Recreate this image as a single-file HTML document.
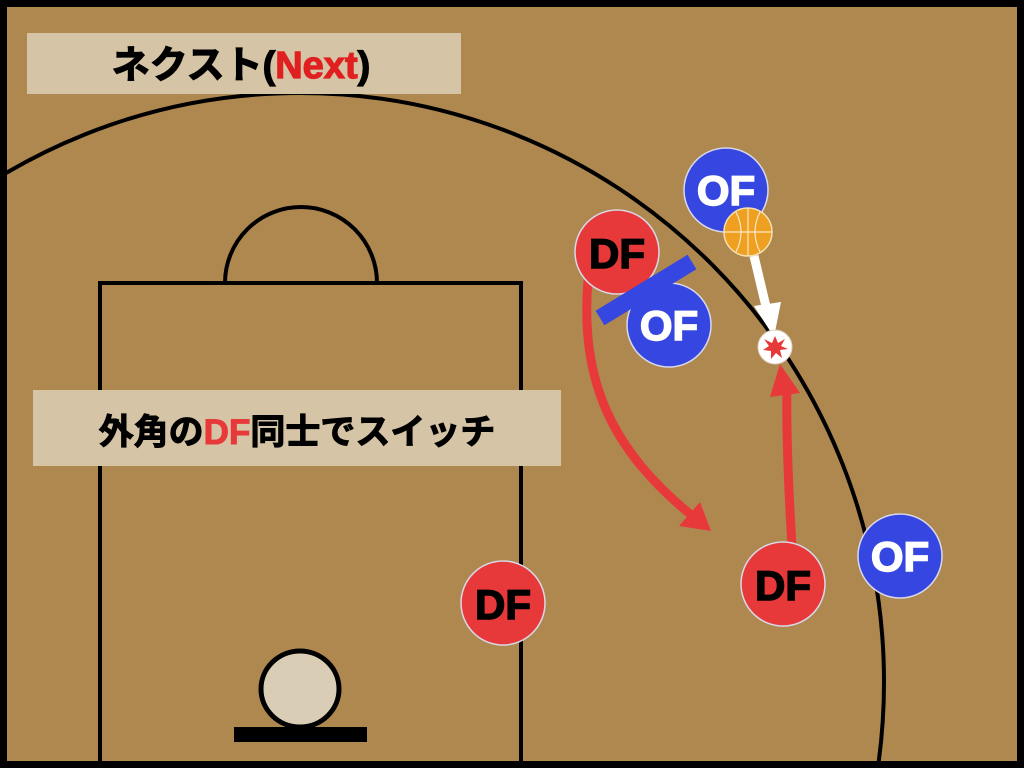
<!DOCTYPE html>
<html><head><meta charset="utf-8"><style>
html,body{margin:0;padding:0;background:#000;overflow:hidden;width:1024px;height:768px;}
svg{display:block}
text{font-family:"Liberation Sans","Noto Sans CJK JP",sans-serif;font-weight:bold;}
</style></head><body>
<svg width="1024" height="768" viewBox="0 0 1024 768" xmlns="http://www.w3.org/2000/svg">
<rect x="0" y="0" width="1024" height="768" fill="#000"/>
<rect x="7" y="7" width="1010" height="754" fill="#AF8850"/>
<defs><clipPath id="c"><rect x="7" y="7" width="1010" height="754"/></clipPath></defs>
<g clip-path="url(#c)" fill="none" stroke="#000" stroke-width="4">
<ellipse cx="300" cy="682" rx="584" ry="589"/>
<rect x="100" y="283" width="421" height="500"/>
<path d="M225 283 A76 76 0 0 1 377 283"/>
</g>
<ellipse cx="300" cy="689" rx="39" ry="38" fill="#D9CDB5" stroke="#000" stroke-width="5"/>
<rect x="234" y="727" width="133" height="15" fill="#000"/>
<rect x="27" y="33" width="434" height="61" fill="#D5C4A5"/>
<text x="241" y="78" font-size="38" text-anchor="middle" fill="#000" stroke="#000" stroke-width="1.2">ネクスト(<tspan fill="#E02020" stroke="#E02020">Next</tspan>)</text>
<rect x="33" y="390" width="528" height="76" fill="#D5C4A5"/>
<text x="297" y="444" font-size="35" text-anchor="middle" fill="#000" stroke="#000" stroke-width="1">外角の<tspan fill="#E8393A" stroke="#E8393A">DF</tspan>同士でスイッチ</text>
<path d="M588 280 C580 380 610 450 695 518" fill="none" stroke="#E8393A" stroke-width="9"/>
<polygon points="711,531 679,526 700,502" fill="#E8393A"/>
<path d="M792 546 C788 480 786 430 787 385" fill="none" stroke="#E8393A" stroke-width="9"/>
<polygon points="780,364 770,397 800,393" fill="#E8393A"/>
<path d="M754 256 L768 315" fill="none" stroke="#fff" stroke-width="9"/>
<polygon points="774,337 754,306 781,302" fill="#fff"/>
<g stroke="#D8D8E8" stroke-width="1.5">
<circle cx="726" cy="190" r="42" fill="#3646E0"/>
<circle cx="617" cy="252" r="42" fill="#E8393A"/>
<circle cx="669" cy="325" r="42" fill="#3646E0"/>
<circle cx="900" cy="556" r="42" fill="#3646E0"/>
<circle cx="783" cy="584" r="42" fill="#E8393A"/>
<circle cx="503" cy="603" r="42" fill="#E8393A"/>
</g>
<line x1="600" y1="318" x2="692" y2="262" stroke="#3646E0" stroke-width="17"/>
<g font-size="42" text-anchor="middle" stroke-width="1.5">
<text x="726" y="205" fill="#fff" stroke="#fff">OF</text>
<text x="617" y="268" fill="#000" stroke="#000">DF</text>
<text x="669" y="340" fill="#fff" stroke="#fff">OF</text>
<text x="900" y="571" fill="#fff" stroke="#fff">OF</text>
<text x="783" y="600" fill="#000" stroke="#000">DF</text>
<text x="503" y="619" fill="#000" stroke="#000">DF</text>
</g>
<circle cx="748" cy="232" r="24" fill="#F0A020" stroke="#F5E0B0" stroke-width="1.5"/>
<g stroke="#F8E8C8" stroke-width="1.2" fill="none">
<line x1="748" y1="208" x2="748" y2="256"/>
<line x1="724" y1="232" x2="772" y2="232"/>
<path d="M736 212 Q746 232 736 252"/>
<path d="M760 212 Q750 232 760 252"/>
</g>
<circle cx="775" cy="347" r="17" fill="#fff" stroke="#E0D0C0" stroke-width="1"/>
<polygon points="775,336 778,343 785,339 781,346 788,349 780,350 782,358 776,353 771,359 771,351 763,350 769,346 764,339 772,343" fill="#E8393A"/>
</svg>
</body></html>
